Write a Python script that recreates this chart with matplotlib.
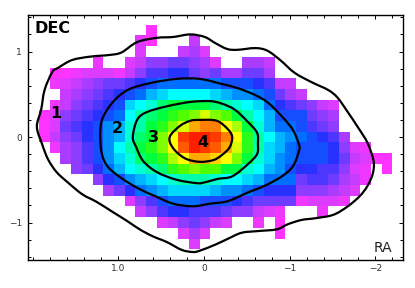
import numpy as np
import matplotlib
matplotlib.use("Agg")
import matplotlib.pyplot as plt
from matplotlib.colors import LinearSegmentedColormap
from matplotlib.patches import PathPatch
from matplotlib.path import Path
from matplotlib.ticker import MultipleLocator

n = np.nan

# map cells, first column of each row then its values (rows run top to bottom)
row_starts = [10, 9, 9, 5, 1, 1, 2, 1, 0, 0, 0, 1, 2, 3, 5, 6, 8, 9, 11, 13, 14]
row_values = [
    [0],
    [1, 0, n, n, n, 1.5],
    [1, n, n, n, 1.5, 2, 1],
    [.5, n, n, 1, 1.5, 2.5, 2.5, 3, 3, 2.5, 2, 1, n, n, 2, 2, 1.5],
    [0, 0, .5, 1, 1, 1, .5, 1.5, 2.5, 3.5, 3.5, 4, 4, 3, 2.5, 3, 2, 2, 3, 3, 2],
    [.5, 1, 1.5, 2, 2.5, 3, 3, 3.5, 4, 4.5, 5, 5, 5, 5, 5, 5, 4.5, 4.5, 4.5, 4, 3.5, 1.5, 1.5],
    [1.5, 2, 2.5, 3, 3.5, 4, 4.5, 5, 6, 6.5, 7, 7, 7, 7, 6.5, 6, 5.5, 5.5, 5, 4.5, 3, 2, 1.5],
    [.5, 1.5, 2.5, 3, 3.5, 4, 4.5, 6.5, 7, 7.5, 8.5, 9, 9, 9, 9, 8.5, 8, 7.5, 7, 6.5, 5, 4, 3.5, 3, 2.5, 1.5, 1],
    [0, 1, 2.5, 3, 3.5, 4, 4.5, 5, 7, 8, 8.5, 9, 9.5, 10, 10.5, 11.5, 10.5, 10, 9, 8, 7, 6, 4.5, 4.5, 4.5, 3, 2.5, 2],
    [0, 1, 3, 3.5, 4, 4.5, 5.5, 6, 7.5, 8, 9, 9.5, 10.5, 11.5, 13, 13.5, 13.5, 12, 11, 9, 7.5, 6, 5, 5, 4.5, 3.5, 3, 2.5],
    [0, 1.5, 2.5, 3, 4, 4.5, 5.5, 6, 7.5, 8.5, 9, 10.5, 12, 14.5, 15, 15, 14.5, 13.5, 12, 9.5, 8, 7, 6, 5.5, 5, 4.5, 4, 3.5, 2],
    [.5, 2, 2.5, 3.5, 4.5, 5.5, 7, 8, 9, 9.5, 10.5, 12, 14, 15, 14.5, 14, 13, 11.5, 9.5, 8, 6.5, 6, 5, 4.5, 4.5, 4.5, 4, 2.5, 1, .5],
    [2, 2.5, 3.5, 4.5, 5.5, 6.5, 7.5, 8.5, 9, 9.5, 11, 12, 13, 13, 12.5, 12, 10.5, 9, 7.5, 6.5, 5.5, 5, 4.5, 4.5, 4.5, 4, 3, 1.5, 1, 0, 0],
    [2.5, 3, 4, 5, 6, 7, 7.5, 8, 8.5, 9.5, 10, 10.5, 10, 10, 9, 9, 7.5, 7, 6, 5.5, 4.5, 4, 4, 3.5, 3.5, 2.5, 1, .5, n, 0],
    [2.5, 4, 4.5, 5.5, 6, 6.5, 7, 7.5, 8, 8, 8, 7.5, 7, 7, 6.5, 6, 5, 5, 5, 3, 3.5, 3.5, 3, 2, 1.5, .5],
    [2, 3, 4, 5, 5.5, 6, 6.5, 6.5, 6.5, 6.5, 6, 5.5, 5.5, 5, 4.5, 4, 4, 4, 2.5, 2.5, 2.5, 2, 1.5, 1],
    [1, 2.5, 3.5, 4.5, 5, 5, 5, 4.5, 4.5, 4.5, 4, 3.5, 3, 3, 3, 3, .5, 1, 1, 1, .5],
    [1.5, 2.5, 3.5, 4, 4, 3.5, 3.5, 3.5, 3, 2.5, 2.5, 1.5, 1, .5, n, n, n, .5],
    [1, 1.5, 2.5, 3, 2.5, 1.5, 1, n, n, .5, n, 0],
    [1, 2, 1, n, n, n, n, n, n, 0],
    [1],
]

ra_edges = 1.925 - 0.125 * np.arange(34)
dec_edges = 1.3125 - 0.125 * np.arange(22)

# contours
c1_ra = [1.95, 1.90, 1.86, 1.77, 1.70, 1.54, 1.33, 1.10, 0.96, 0.78, 0.55, 0.36, 0.16, -0.01, -0.13, -0.27, -0.39, -0.60, -0.74, -0.89, -1.06, -1.26, -1.45, -1.56, -1.68, -1.80, -1.91, -1.98, -1.97, -1.91, -1.82, -1.68, -1.51, -1.30, -1.14, -0.98, -0.85, -0.63, -0.44, -0.28, -0.13, 0.05, 0.13, 0.26, 0.43, 0.60, 0.75, 0.90, 1.06, 1.25, 1.42, 1.59, 1.72, 1.82, 1.89]
c1_dec = [0.12, 0.32, 0.55, 0.76, 0.81, 0.90, 0.94, 0.96, 0.99, 1.11, 1.16, 1.17, 1.20, 1.17, 1.10, 1.03, 1.02, 1.04, 1.01, 0.90, 0.75, 0.64, 0.55, 0.46, 0.29, 0.11, -0.07, -0.28, -0.43, -0.57, -0.69, -0.81, -0.91, -0.95, -0.97, -1.02, -1.08, -1.10, -1.12, -1.19, -1.26, -1.33, -1.345, -1.32, -1.23, -1.16, -1.08, -0.98, -0.88, -0.76, -0.67, -0.53, -0.41, -0.26, -0.08]
c2_ra = [1.21, 1.19, 1.07, 0.89, 0.63, 0.32, 0.05, -0.21, -0.40, -0.60, -0.75, -0.92, -1.04, -1.11, -1.11, -1.04, -0.91, -0.71, -0.51, -0.28, -0.07, 0.13, 0.36, 0.55, 0.75, 0.95, 1.12, 1.19]
c2_dec = [0, 0.20, 0.40, 0.55, 0.63, 0.68, 0.68, 0.62, 0.57, 0.49, 0.40, 0.23, 0.08, -0.09, -0.16, -0.34, -0.46, -0.57, -0.65, -0.75, -0.78, -0.81, -0.78, -0.70, -0.61, -0.49, -0.35, -0.20]
c3_ra = [0.83, 0.78, 0.67, 0.43, 0.16, -0.07, -0.21, -0.36, -0.51, -0.62, -0.63, -0.62, -0.51, -0.33, -0.16, -0.01, 0.08, 0.32, 0.55, 0.71, 0.79]
c3_dec = [0, 0.20, 0.29, 0.36, 0.41, 0.42, 0.39, 0.32, 0.18, 0.05, -0.08, -0.20, -0.32, -0.46, -0.49, -0.53, -0.54, -0.50, -0.41, -0.28, -0.12]
c4_ra = [0.40, 0.28, 0.16, 0.05, -0.15, -0.28, -0.33, -0.30, -0.21, -0.11, 0.05, 0.22, 0.36]
c4_dec = [0, 0.13, 0.19, 0.20, 0.19, 0.09, 0, -0.12, -0.21, -0.27, -0.29, -0.25, -0.13]

contour_labels = ["1", "2", "3", "4"]
label_ra = [1.73, 1.01, 0.59, 0.01]
label_dec = [0.27, 0.10, 0.0, -0.07]


def closed_curve(xs, ys):
    # smooth closed path through the read points
    p = np.column_stack([xs, ys])
    verts = [p[0]]
    for i in range(len(p)):
        a, b, c, d = p[i - 1], p[i], p[(i + 1) % len(p)], p[(i + 2) % len(p)]
        verts += [b + (c - a) / 6, c - (d - b) / 6, c]
    codes = [Path.MOVETO] + [Path.CURVE4] * (len(verts) - 1)
    return Path(verts, codes)


grid = np.full((21, 33), np.nan)
for r, (start, vals) in enumerate(zip(row_starts, row_values)):
    grid[r, start:start + len(vals)] = vals

stops = [
    "#ff33ff", "#dd3cff", "#aa3cff", "#6e3cff", "#2832ff", "#006eff", "#00b4ff", "#00ffff",
    "#00ffaa", "#00ff3c", "#50ff00", "#aaff00", "#ffff00", "#ffaa00", "#ff5a00", "#ff1e00",
]
cmap = LinearSegmentedColormap.from_list("map", stops)
cmap.set_bad((1, 1, 1, 0))

fig = plt.figure(figsize=(4.15, 2.88), dpi=100)
ax = fig.add_axes([27.7 / 415, 1 - 260.3 / 288, 375 / 415, 245.8 / 288])

ax.pcolormesh(ra_edges, dec_edges, grid, cmap=cmap, vmin=0, vmax=15, linewidth=0, rasterized=True)

for xs, ys in [(c1_ra, c1_dec), (c2_ra, c2_dec), (c3_ra, c3_dec), (c4_ra, c4_dec)]:
    ax.add_patch(PathPatch(closed_curve(xs, ys), fill=False, edgecolor="black", lw=1.6))

for t, x, y in zip(contour_labels, label_ra, label_dec):
    ax.text(x, y, t, fontsize=11.5, fontweight="bold", ha="center", va="center")

ax.text(0.017, 0.945, "DEC", transform=ax.transAxes, fontsize=11.5, fontweight="bold", ha="left", va="center")
ax.text(0.972, 0.052, "RA", transform=ax.transAxes, fontsize=10, color="#222222", ha="right", va="center")

ax.set_xlim(2.057, -2.32)
ax.set_ylim(-1.442, 1.433)
ax.set_xticks([1, 0, -1, -2])
ax.set_xticklabels(["1.0", "0", "\u22121", "\u22122"])
ax.set_yticks([1, 0, -1])
ax.set_yticklabels(["1", "0", "\u22121"])
ax.xaxis.set_minor_locator(MultipleLocator(0.2))
ax.yaxis.set_minor_locator(MultipleLocator(0.2))
ax.tick_params(which="both", direction="in", top=True, right=True, width=0.7, labelsize=6.5, labelcolor="#333333")
ax.tick_params(which="major", length=3)
ax.tick_params(which="minor", length=2)
ax.tick_params(axis="x", which="both", pad=3)
ax.tick_params(axis="y", which="both", pad=4)
for s in ax.spines.values():
    s.set_linewidth(1.0)

fig.savefig("out.png", dpi=100)
